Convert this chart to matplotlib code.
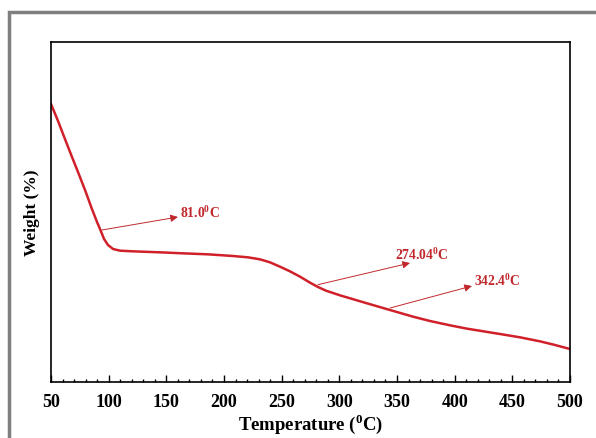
import matplotlib
matplotlib.use("Agg")
import matplotlib.pyplot as plt
from matplotlib.patches import Rectangle
from matplotlib.ticker import MultipleLocator

plt.rcParams['font.family'] = 'Liberation Serif'
plt.rcParams['font.weight'] = 'bold'
plt.rcParams['mathtext.fontset'] = 'custom'
plt.rcParams['mathtext.rm'] = 'Liberation Serif:bold'
plt.rcParams['mathtext.bf'] = 'Liberation Serif:bold'

# TGA curve
temperature = [50.0, 56.1, 62.1, 68.2, 73.4, 79.5, 85.5, 89.9, 92.5, 96.0,
               99.4, 103.8, 109.8, 121.1, 144.5, 164.5, 186.2, 207.8, 220.8,
               231.2, 239.9, 248.5, 257.2, 265.9, 274.6, 281.5, 288.4, 300.6,
               324.0, 343.9, 363.9, 378.6, 396.0, 410.7, 439.3, 456.7, 474.0,
               487.0, 500.0]
weight = [100.0, 97.45, 94.75, 92.05, 89.8, 87.1, 84.25, 82.3, 81.25, 79.75,
          78.85, 78.25, 78.0, 77.9, 77.75, 77.6, 77.45, 77.2, 77.0,
          76.7, 76.25, 75.6, 74.9, 74.1, 73.2, 72.55, 72.0, 71.3,
          70.1, 69.1, 68.1, 67.45, 66.8, 66.3, 65.5, 65.0, 64.4,
          63.85, 63.25]

# annotations: label, point on curve, arrow head, text position
labels = [r'81.0$^{\mathbf{0}}$C', r'274.04$^{\mathbf{0}}$C', r'342.4$^{\mathbf{0}}$C']
arrow_from = [(94.2, 81.1), (281.5, 72.9), (344.0, 69.4)]
arrow_to = [(160.1, 83.05), (361.3, 76.15), (415.0, 72.7)]
text_at = [(161.5, 83.9), (348.3, 77.6), (416.8, 73.7)]

fig = plt.figure(figsize=(5.96, 4.39), dpi=100)
fig.patches.append(Rectangle((9 / 596, -0.1), 1.2, 1.1 - 13 / 439,
                             transform=fig.transFigure, fill=False,
                             edgecolor='#7f7f7f', linewidth=2.5, clip_on=False))

ax = fig.add_axes([51 / 596, 1 - 383 / 439, 519 / 596, 340 / 439])
ax.plot(temperature, weight, color='#d0202a', linewidth=1.8)

for lab, p0, p1, pt in zip(labels, arrow_from, arrow_to, text_at):
    ax.annotate('', xy=p1, xytext=p0,
                arrowprops=dict(arrowstyle='-|>', color='#c0282d', lw=0.7,
                                mutation_scale=11, shrinkA=0, shrinkB=0))
    ax.text(pt[0], pt[1], lab, color='#c0282d', fontsize=9.8,
            fontweight='bold', ha='left', va='center')

ax.set_xlim(50, 500)
ax.set_ylim(58.3, 109.3)
ax.xaxis.set_major_locator(MultipleLocator(50))
ax.xaxis.set_minor_locator(MultipleLocator(10))
ax.tick_params(axis='x', which='major', direction='in', length=5, width=1,
               labelsize=13, pad=8)
ax.tick_params(axis='x', which='minor', direction='in', length=2.5, width=1)
ax.set_yticks([])
for lab in ax.get_xticklabels():
    lab.set_fontweight('bold')
for s in ax.spines.values():
    s.set_linewidth(1.2)

ax.set_xlabel(r'Temperature ($^{\mathbf{0}}$C)', fontsize=13.5, fontweight='bold', labelpad=1)
ax.set_ylabel('Weight (%)', fontsize=12.5, fontweight='bold', labelpad=8)

fig.savefig('out.png', dpi=100, facecolor='white')
